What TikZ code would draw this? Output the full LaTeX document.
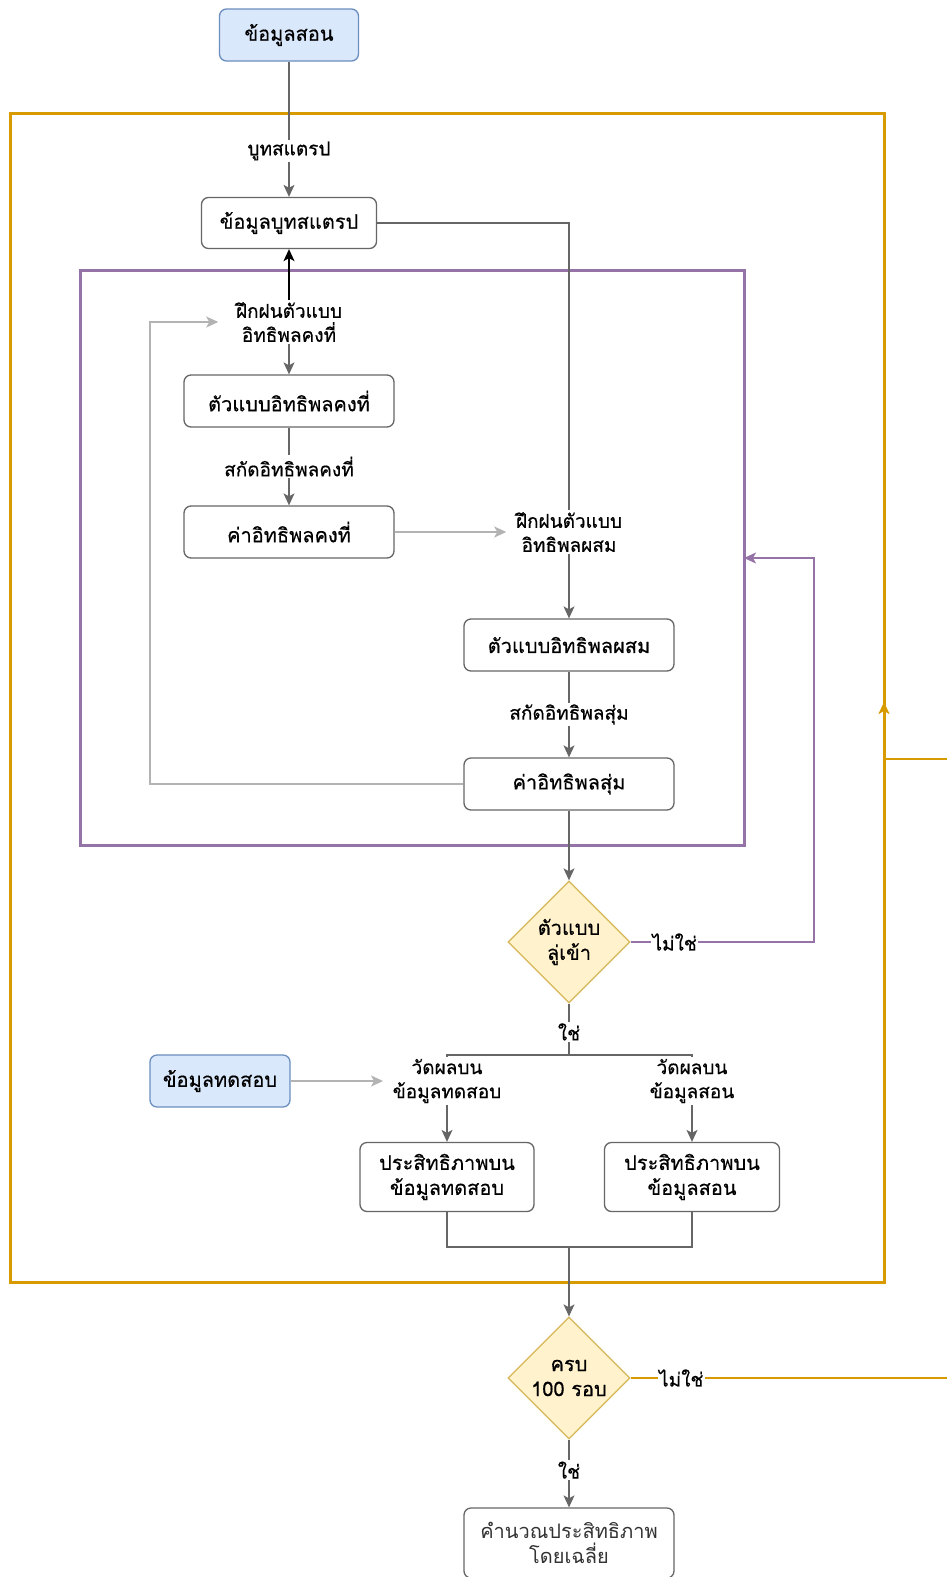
\documentclass[tikz,border=0pt]{standalone}
\usepackage{fontspec}
\setmainfont[Script=Thai]{Loma}
\newfontfamily\medfont[Script=Thai,FakeBold=0.5]{Loma}
\usetikzlibrary{arrows.meta,shapes.geometric,calc}

\definecolor{edgegray}{HTML}{666666}
\definecolor{lightedge}{HTML}{B3B3B3}
\definecolor{loopor}{HTML}{D79B00}
\definecolor{looppu}{HTML}{9673A6}
\definecolor{bluefill}{HTML}{DAE8FC}
\definecolor{blueline}{HTML}{6C8EBF}
\definecolor{yelfill}{HTML}{FFF2CC}
\definecolor{yelline}{HTML}{D6B656}

\tikzset{
  tip/.style={-{Stealth[length=12,width=11,inset=3]}},
  stepbox/.style={draw=edgegray, line width=1.3, rounded corners=7, fill=white,
    align=center, inner sep=2, font=\fontsize{20}{25}\medfont},
  databox/.style={stepbox, draw=blueline, fill=bluefill},
  decide/.style={diamond, draw=yelline, fill=yelfill, line width=1.3, aspect=1,
    minimum width=122, minimum height=122, inner sep=0, align=center,
    font=\fontsize{20}{25}\medfont},
  lbl/.style={fill=white, inner sep=1.5, align=center, font=\fontsize{19}{24}\medfont},
  flow/.style={draw=edgegray, line width=1.3, tip},
  plain/.style={draw=edgegray, line width=1.3},
  lightflow/.style={draw=lightedge, line width=1.3, tip},
}

\begin{document}
\begin{tikzpicture}[x=1pt,y=-1pt]
\clip (0,0) rectangle (947,1577);
\fill[white] (0,0) rectangle (947,1577);

% outer loop container (100 rounds) and inner loop container (convergence)
\node[draw=loopor, line width=3, minimum width=874, minimum height=1169, inner sep=0]
  (outer) at (447,697.5) {};
\node[draw=looppu, line width=3, minimum width=664, minimum height=575, inner sep=0]
  (inner) at (412,558) {};

% nodes
\node[databox, minimum width=139, minimum height=52] (train) at (289,35) {ข้อมูลสอน};
\node[stepbox, minimum width=175, minimum height=51] (boot) at (289,223) {ข้อมูลบูทสแตรป};
\node[lbl] (lfix) at (289,322) {ฝึกฝนตัวแบบ\\อิทธิพลคงที่};
\node[stepbox, minimum width=210, minimum height=52] (fixmodel) at (289,401) {ตัวแบบอิทธิพลคงที่};
\node[stepbox, minimum width=210, minimum height=52] (fixval) at (289,532) {ค่าอิทธิพลคงที่};
\node[lbl] (lmix) at (569,532) {ฝึกฝนตัวแบบ\\อิทธิพลผสม};
\node[stepbox, minimum width=210, minimum height=52] (mixmodel) at (569,645) {ตัวแบบอิทธิพลผสม};
\node[stepbox, minimum width=210, minimum height=52] (randval) at (569,784) {ค่าอิทธิพลสุ่ม};
\node[decide] (conv) at (569,942) {ตัวแบบ\\ลู่เข้า};
\node[databox, minimum width=140, minimum height=52] (test) at (220,1081) {ข้อมูลทดสอบ};
\node[lbl] (ltest) at (447,1081) {วัดผลบน\\ข้อมูลทดสอบ};
\node[lbl] (ltrain) at (692,1081) {วัดผลบน\\ข้อมูลสอน};
\node[stepbox, minimum width=174, minimum height=69] (perftest) at (447,1177) {ประสิทธิภาพบน\\ข้อมูลทดสอบ};
\node[stepbox, minimum width=175, minimum height=69] (perftrain) at (692,1177) {ประสิทธิภาพบน\\ข้อมูลสอน};
\node[decide] (rounds) at (569,1378) {ครบ\\100 รอบ};
\node[stepbox, minimum width=210, minimum height=70, text=black!80,
  font=\fontsize{20}{25}\selectfont] (avg) at (569,1543) {คำนวณประสิทธิภาพ\\โดยเฉลี่ย};

% helper points
\coordinate (split) at (569,1055);
\coordinate (join) at (569,1247);
\coordinate (backL) at (150,784);
\coordinate (convback) at (814,942);
\coordinate (innerin) at (744,558);
\coordinate (roundsout) at (947,1378);
\coordinate (roundsin) at (947,759);
\coordinate (outerin) at (884,759);
\coordinate (outerup) at (884,702);

% connectors
\draw[flow] (train) -- node[lbl, pos=0.66] {บูทสแตรป} (boot);
\draw[draw=black, line width=1.3, tip] (lfix) -- (boot);
\draw[flow] (lfix) -- (fixmodel);
\draw[flow] (fixmodel) -- node[lbl, pos=0.5] {สกัดอิทธิพลคงที่} (fixval);
\draw[lightflow] (fixval) -- ([xshift=-8]lmix.west);
\draw[plain] (boot.east) -| (lmix.north);
\draw[flow] (lmix) -- (mixmodel);
\draw[flow] (mixmodel) -- node[lbl, pos=0.5] {สกัดอิทธิพลสุ่ม} (randval);
\draw[lightflow] (randval.west) -- (backL) |- ([xshift=-16]lfix.west);
\draw[flow] (randval) -- (conv);
\draw[draw=looppu, line width=1.5, tip] (conv.east) -- node[lbl, pos=0.24] {ไม่ใช่} (convback) |- (innerin);
\draw[plain] (conv.south) -- node[lbl, pos=0.55] {ใช่} (split);
\draw[plain] (split) -| (ltest.north);
\draw[plain] (split) -| (ltrain.north);
\draw[lightflow] (test.east) -- ([xshift=-8]test.east -| ltest.west);
\draw[flow] (ltest) -- (perftest);
\draw[flow] (ltrain) -- (perftrain);
\draw[plain] (perftest.south) |- (join);
\draw[plain] (perftrain.south) |- (join);
\draw[flow] (join) -- (rounds);
\draw[draw=loopor, line width=1.5] (rounds.east) -- node[lbl, pos=0.16] {ไม่ใช่} (roundsout);
\draw[draw=loopor, line width=1.5] (roundsin) -- (outerin);
\draw[draw=loopor, line width=3, tip] (outerin) -- (outerup);
\draw[flow] (rounds) -- node[lbl, pos=0.45] {ใช่} (avg);
\end{tikzpicture}
\end{document}
